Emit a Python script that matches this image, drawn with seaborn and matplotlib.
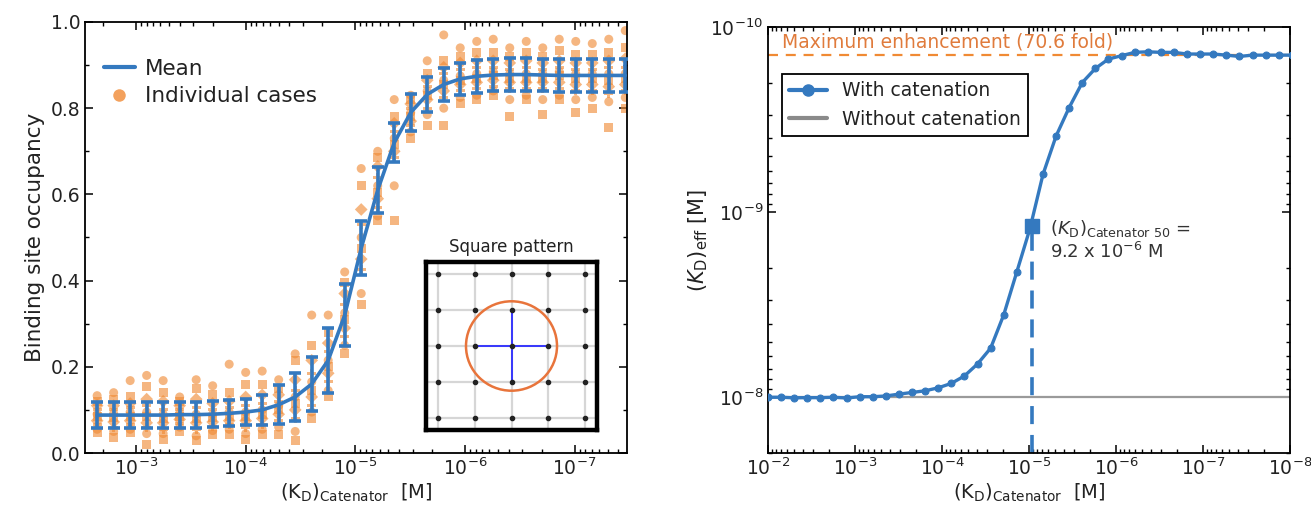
import numpy as np
import pandas as pd
import matplotlib
matplotlib.use("Agg")
import matplotlib.pyplot as plt
import seaborn as sns
from matplotlib.ticker import LogLocator, NullFormatter, MultipleLocator, FormatStrFormatter
from matplotlib.lines import Line2D
from matplotlib.patches import Circle

# ---------------- data: left panel ----------------
kd_left = [2.263e-3, 1.6e-3, 1.131e-3, 8e-4, 5.657e-4, 4e-4, 2.828e-4, 2e-4, 1.414e-4, 1e-4,
           7.071e-5, 5e-5, 3.536e-5, 2.5e-5, 1.768e-5, 1.25e-5, 8.839e-6, 6.25e-6, 4.419e-6,
           3.125e-6, 2.21e-6, 1.5625e-6, 1.105e-6, 7.8125e-7, 5.524e-7, 3.906e-7, 2.762e-7,
           1.953e-7, 1.381e-7, 9.766e-8, 6.905e-8, 4.883e-8, 3.453e-8]
mean_occ = [0.088, 0.088, 0.088, 0.088, 0.088, 0.089, 0.089, 0.090, 0.092, 0.095,
            0.100, 0.112, 0.130, 0.160, 0.215, 0.320, 0.475, 0.610, 0.720,
            0.790, 0.832, 0.855, 0.868, 0.874, 0.877, 0.878, 0.878,
            0.877, 0.876, 0.876, 0.876, 0.876, 0.876]
err_occ = [0.030, 0.030, 0.030, 0.030, 0.030, 0.030, 0.030, 0.030, 0.030, 0.030,
           0.035, 0.045, 0.055, 0.063, 0.075, 0.072, 0.063, 0.053, 0.045,
           0.042, 0.040, 0.038, 0.038, 0.038, 0.038, 0.038, 0.038,
           0.038, 0.038, 0.038, 0.038, 0.038, 0.038]
cases = [
    [0.133, 0.12, 0.11, 0.10, 0.09, 0.085, 0.075, 0.065, 0.055, 0.048],
    [0.14, 0.125, 0.11, 0.10, 0.092, 0.082, 0.072, 0.06, 0.05, 0.036],
    [0.168, 0.13, 0.115, 0.105, 0.095, 0.085, 0.075, 0.065, 0.055, 0.048],
    [0.18, 0.155, 0.125, 0.11, 0.095, 0.085, 0.07, 0.06, 0.045, 0.02],
    [0.168, 0.14, 0.12, 0.10, 0.09, 0.08, 0.07, 0.055, 0.045, 0.032],
    [0.13, 0.12, 0.11, 0.10, 0.092, 0.085, 0.078, 0.068, 0.06, 0.05],
    [0.17, 0.15, 0.125, 0.105, 0.09, 0.08, 0.07, 0.055, 0.04, 0.03],
    [0.156, 0.135, 0.115, 0.10, 0.09, 0.082, 0.072, 0.062, 0.052, 0.044],
    [0.206, 0.14, 0.12, 0.105, 0.095, 0.085, 0.075, 0.065, 0.055, 0.044],
    [0.187, 0.16, 0.13, 0.11, 0.095, 0.085, 0.075, 0.06, 0.045, 0.032],
    [0.19, 0.16, 0.135, 0.115, 0.10, 0.09, 0.08, 0.065, 0.055, 0.044],
    [0.17, 0.15, 0.135, 0.12, 0.11, 0.10, 0.09, 0.075, 0.06, 0.044],
    [0.23, 0.215, 0.17, 0.145, 0.13, 0.115, 0.10, 0.08, 0.05, 0.03],
    [0.32, 0.25, 0.215, 0.185, 0.165, 0.145, 0.13, 0.11, 0.095, 0.08],
    [0.32, 0.28, 0.255, 0.235, 0.215, 0.20, 0.185, 0.165, 0.145, 0.13],
    [0.42, 0.395, 0.37, 0.345, 0.325, 0.31, 0.29, 0.27, 0.25, 0.23],
    [0.66, 0.62, 0.565, 0.53, 0.50, 0.475, 0.45, 0.425, 0.37, 0.345],
    [0.70, 0.685, 0.665, 0.64, 0.62, 0.605, 0.59, 0.57, 0.55, 0.54],
    [0.82, 0.78, 0.765, 0.745, 0.73, 0.715, 0.70, 0.685, 0.62, 0.54],
    [0.83, 0.82, 0.81, 0.80, 0.79, 0.78, 0.77, 0.76, 0.745, 0.73],
    [0.91, 0.88, 0.865, 0.85, 0.84, 0.83, 0.82, 0.80, 0.785, 0.76],
    [0.97, 0.91, 0.895, 0.88, 0.865, 0.855, 0.84, 0.825, 0.80, 0.76],
    [0.94, 0.92, 0.905, 0.89, 0.875, 0.865, 0.855, 0.84, 0.825, 0.81],
    [0.955, 0.93, 0.91, 0.895, 0.88, 0.87, 0.86, 0.845, 0.83, 0.82],
    [0.96, 0.93, 0.91, 0.895, 0.885, 0.875, 0.865, 0.85, 0.84, 0.83],
    [0.94, 0.92, 0.905, 0.89, 0.88, 0.87, 0.86, 0.845, 0.82, 0.78],
    [0.955, 0.93, 0.91, 0.895, 0.88, 0.87, 0.86, 0.845, 0.83, 0.82],
    [0.94, 0.92, 0.905, 0.89, 0.88, 0.87, 0.86, 0.845, 0.82, 0.785],
    [0.96, 0.935, 0.91, 0.895, 0.885, 0.875, 0.86, 0.845, 0.83, 0.82],
    [0.955, 0.925, 0.905, 0.89, 0.88, 0.87, 0.855, 0.84, 0.82, 0.79],
    [0.95, 0.925, 0.905, 0.89, 0.88, 0.87, 0.855, 0.84, 0.825, 0.80],
    [0.96, 0.93, 0.91, 0.895, 0.88, 0.865, 0.85, 0.835, 0.815, 0.755],
    [0.98, 0.94, 0.915, 0.895, 0.88, 0.87, 0.855, 0.84, 0.825, 0.80],
]
left_xticks = [1e-3, 1e-4, 1e-5, 1e-6, 1e-7]

# ---------------- data: right panel ----------------
kd_right = [1e-2, 7.071e-3, 5e-3, 3.536e-3, 2.5e-3, 1.768e-3, 1.25e-3, 8.839e-4, 6.25e-4,
            4.419e-4, 3.125e-4, 2.21e-4, 1.5625e-4, 1.105e-4, 7.8125e-5, 5.524e-5, 3.906e-5,
            2.762e-5, 1.953e-5, 1.381e-5, 9.766e-6, 6.905e-6, 4.883e-6, 3.453e-6, 2.441e-6,
            1.726e-6, 1.221e-6, 8.632e-7, 6.104e-7, 4.316e-7, 3.052e-7, 2.158e-7, 1.526e-7,
            1.079e-7, 7.629e-8, 5.395e-8, 3.815e-8, 2.697e-8, 1.907e-8, 1.349e-8, 9.537e-9]
log_kd_eff = [-8.000, -8.000, -7.997, -7.998, -7.998, -8.000, -7.996, -8.003, -8.003,
              -8.007, -8.017, -8.026, -8.035, -8.051, -8.075, -8.115, -8.180,
              -8.265, -8.445, -8.677, -8.910, -9.204, -9.411, -9.565, -9.700,
              -9.776, -9.827, -9.845, -9.863, -9.866, -9.863, -9.863, -9.854,
              -9.854, -9.854, -9.848, -9.841, -9.848, -9.848, -9.848, -9.848]
kd_without = 1e-8
fold_max = 70.6
kd50 = 9.2e-6
right_xticks = [1e-2, 1e-3, 1e-4, 1e-5, 1e-6, 1e-7, 1e-8]

# ---------------- styling ----------------
sns.set_theme(style="ticks")
plt.rcParams["font.family"] = ["DejaVu Sans"]
plt.rcParams["mathtext.fontset"] = "dejavusans"
blue = "#3479BF"
orange = "#F08A34"
txt = "#222222"

W, H = 1311, 511
fig = plt.figure(figsize=(W / 100, H / 100), dpi=100)
axL = fig.add_axes([85 / W, 1 - 453 / H, 542 / W, 431 / H])
axR = fig.add_axes([768 / W, 1 - 453 / H, 522 / W, 426 / H])

# ---------------- left panel ----------------
rows = []
for xv, col in zip(kd_left, cases):
    for ci, v in enumerate(col):
        rows.append({"kd": xv, "occ": v, "case": ci})
df_cases = pd.DataFrame(rows)
mk = ["o", "s", "D", "P", "o", "s", "D", "P", "o", "s"]
sns.scatterplot(data=df_cases, x="kd", y="occ", style="case", markers=mk, color=orange,
                alpha=0.62, s=42, linewidth=0, legend=False, ax=axL, zorder=2)
axL.errorbar(kd_left, mean_occ, yerr=err_occ, color=blue, lw=2.6, elinewidth=2.6,
             capsize=4, capthick=2.6, zorder=4)
axL.set_xscale("log")
axL.set_xlim(2.92e-3, 3.33e-8)
axL.set_ylim(0.0, 1.0)
axL.set_xticks(left_xticks)
axL.xaxis.set_minor_locator(LogLocator(base=10, subs=np.arange(2, 10), numticks=20))
axL.xaxis.set_minor_formatter(NullFormatter())
axL.yaxis.set_major_locator(MultipleLocator(0.2))
axL.yaxis.set_minor_locator(MultipleLocator(0.1))
axL.yaxis.set_major_formatter(FormatStrFormatter("%.1f"))
axL.set_xlabel(r"(K$_\mathregular{D}$)$_\mathregular{Catenator}$  [M]", fontsize=14, color=txt, labelpad=2)
axL.set_ylabel("Binding site occupancy", fontsize=15.5, color=txt, labelpad=4)
h1 = Line2D([], [], color=blue, lw=3)
h2 = Line2D([], [], color=orange, marker="o", ls="none", ms=9, alpha=0.8, mec="none")
axL.legend([h1, h2], ["Mean", "Individual cases"], loc="upper left", bbox_to_anchor=(0.0, 0.96),
           frameon=False, fontsize=15.5, handlelength=1.4, handletextpad=0.5, labelspacing=0.35,
           labelcolor=txt)

# inset: square pattern
axI = fig.add_axes([426 / W, 1 - 430 / H, 171 / W, 168 / H])
grid = [0, 1, 2, 3, 4]
for g in grid:
    axI.axhline(g, color="#d6d6d6", lw=1.6, zorder=1)
    axI.axvline(g, color="#d6d6d6", lw=1.6, zorder=1)
gx, gy = np.meshgrid(grid, grid)
axI.scatter(gx.ravel(), gy.ravel(), s=9, color="#222222", zorder=4)
axI.plot([1, 3], [2, 2], color="#2a2aff", lw=1.3, zorder=3)
axI.plot([2, 2], [1, 3], color="#2a2aff", lw=1.3, zorder=3)
axI.add_patch(Circle((2, 2), 1.24, fill=False, ec="#E8743B", lw=1.8, zorder=3))
axI.set_xlim(-0.33, 4.33)
axI.set_ylim(-0.33, 4.33)
axI.set_xticks([])
axI.set_yticks([])
for sp in axI.spines.values():
    sp.set_linewidth(3.2)
    sp.set_color("black")
axI.set_title("Square pattern", fontsize=12, color=txt, pad=7)

# ---------------- right panel ----------------
kd_eff = [10 ** v for v in log_kd_eff]
df_r = pd.DataFrame({"kd": kd_right, "eff": kd_eff})
axR.axhline(kd_without, color="#9a9a9a", lw=1.6, zorder=1)
axR.axhline(kd_without / fold_max, color=orange, lw=1.6, ls=(0, (4.5, 3.5)), zorder=1)
kd50_eff = 10 ** ((np.log10(kd_without) + np.log10(kd_without / fold_max)) / 2)
axR.plot([kd50, kd50], [2.0e-8, kd50_eff], color=blue, lw=2.6, ls=(0, (5, 3)), zorder=2)
sns.lineplot(data=df_r, x="kd", y="eff", color=blue, lw=2.4, marker="o", markersize=5,
             markeredgecolor=blue, ax=axR, zorder=3, legend=False)
axR.plot([kd50], [kd50_eff], marker="s", ms=10, color=blue, ls="none", zorder=4)
axR.set_xscale("log")
axR.set_yscale("log")
axR.set_xlim(1e-2, 1e-8)
axR.set_ylim(2.0e-8, 1e-10)
axR.set_xticks(right_xticks)
axR.xaxis.set_minor_locator(LogLocator(base=10, subs=np.arange(2, 10), numticks=20))
axR.xaxis.set_minor_formatter(NullFormatter())
axR.set_yticks([1e-10, 1e-9, 1e-8])
axR.yaxis.set_minor_locator(LogLocator(base=10, subs=np.arange(2, 10), numticks=20))
axR.yaxis.set_minor_formatter(NullFormatter())
axR.set_xlabel(r"(K$_\mathregular{D}$)$_\mathregular{Catenator}$  [M]", fontsize=14, color=txt, labelpad=2)
axR.set_ylabel(r"($\it{K}_\mathregular{D}$)$_\mathregular{eff}$ [M]", fontsize=15, color=txt, labelpad=0)
axR.text(0.026, 0.965, "Maximum enhancement (70.6 fold)", transform=axR.transAxes,
         fontsize=13.5, color="#E07B3C", ha="left", va="center")
axR.text(5.8e-6, 1.22e-9, r"($\it{K}_\mathregular{D}$)$_\mathregular{Catenator\ 50}$ =",
         fontsize=13, color="#333333", ha="left", va="center")
axR.text(5.8e-6, 1.64e-9, r"9.2 x 10$^{-6}$ M", fontsize=13, color="#333333",
         ha="left", va="center")
hw = Line2D([], [], color=blue, lw=3, marker="o", ms=8)
hwo = Line2D([], [], color="#8a8a8a", lw=3)
leg = axR.legend([hw, hwo], ["With catenation", "Without catenation"], loc="upper left",
                 bbox_to_anchor=(0.026, 0.89), borderaxespad=0, fancybox=False,
                 edgecolor="black", fontsize=13.5, handlelength=2.0, labelcolor=txt,
                 framealpha=1)
leg.get_frame().set_linewidth(1.3)

for ax in (axL, axR):
    ax.tick_params(which="both", direction="in", top=True, right=True, bottom=True, left=True,
                   colors="black", labelcolor=txt, labelsize=13.5)
    ax.tick_params(which="major", length=6, width=1.1)
    ax.tick_params(which="minor", length=3, width=1.0)
    for sp in ax.spines.values():
        sp.set_linewidth(1.3)
        sp.set_color("black")

fig.savefig("out.png", dpi=100)
